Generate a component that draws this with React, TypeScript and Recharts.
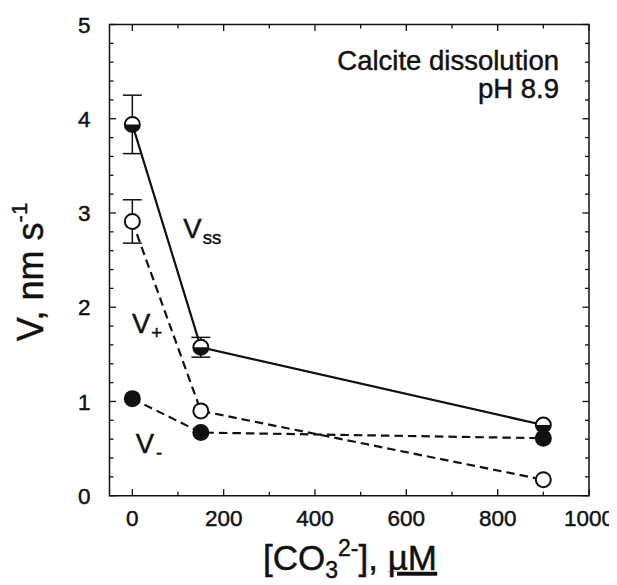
import React from 'react';
import { ComposedChart, Line, XAxis, YAxis, ErrorBar, ReferenceArea, Label } from 'recharts';

const concentrations = [0, 150, 900];
const vssValues = [3.94, 1.575, 0.75];
const vssErrors = [0.31, 0.105, null];
const vPlusValues = [2.91, 0.9, 0.17];
const vPlusErrors = [0.23, null, null];
const vMinusValues = [1.03, 0.67, 0.61];

const xTicks = [0, 100, 200, 300, 400, 500, 600, 700, 800, 900, 1000];
const yTicks = [0, 0.2, 0.4, 0.6, 0.8, 1, 1.2, 1.4, 1.6, 1.8, 2, 2.2, 2.4, 2.6, 2.8, 3, 3.2, 3.4, 3.6, 3.8, 4, 4.2, 4.4, 4.6, 4.8, 5];

const data = concentrations.map((c, i) => ({
  c,
  vss: vssValues[i],
  vssErr: vssErrors[i],
  vPlus: vPlusValues[i],
  vPlusErr: vPlusErrors[i],
  vMinus: vMinusValues[i],
}));

const W = 609;
const H = 577;
const MARGIN = { top: 16.5, right: 28, left: 41.5, bottom: 59.3 };
const Y_AXIS_W = 60;
const X_AXIS_H = 30;
const PLOT_RIGHT = W - MARGIN.right;
const PLOT_TOP = MARGIN.top;

const FONT = '"Liberation Sans", Arial, Helvetica, sans-serif';
const INK = '#111';
const TXT_STROKE = 0.45;

const XTick = (props: any) => {
  const { x, y, payload } = props;
  const v = payload.value;
  const major = v % 200 === 0;
  const len = major ? 6.5 : 4;
  return (
    <g>
      <line x1={x} y1={y} x2={x} y2={y - len} stroke={INK} strokeWidth={1.3} />
      <line x1={x} y1={PLOT_TOP} x2={x} y2={PLOT_TOP + len} stroke={INK} strokeWidth={1.3} />
      {major && (
        <text x={x} y={y + 30} textAnchor="middle" fontSize={22.5} fontFamily={FONT} fill={INK} stroke={INK} strokeWidth={TXT_STROKE}>
          {v}
        </text>
      )}
    </g>
  );
};

const YTick = (props: any) => {
  const { x, y, payload } = props;
  const v = payload.value;
  const major = Math.abs(v - Math.round(v)) < 1e-6;
  const len = major ? 6.5 : 4;
  return (
    <g>
      <line x1={x} y1={y} x2={x + len} y2={y} stroke={INK} strokeWidth={1.3} />
      <line x1={PLOT_RIGHT} y1={y} x2={PLOT_RIGHT - len} y2={y} stroke={INK} strokeWidth={1.3} />
      {major && (
        <text x={x - 19} y={y} dy="0.36em" textAnchor="end" fontSize={22.5} fontFamily={FONT} fill={INK} stroke={INK} strokeWidth={TXT_STROKE}>
          {Math.round(v)}
        </text>
      )}
    </g>
  );
};

const R = 7.5;

const HalfDot = (props: any) => {
  const { cx, cy } = props;
  if (cx == null || cy == null) return <g />;
  return (
    <g>
      <circle cx={cx} cy={cy} r={R} fill="#fff" stroke={INK} strokeWidth={2} />
      <path d={`M ${cx - R} ${cy} A ${R} ${R} 0 0 0 ${cx + R} ${cy} Z`} fill={INK} />
    </g>
  );
};

const OpenDot = (props: any) => {
  const { cx, cy } = props;
  if (cx == null || cy == null) return <g />;
  return <circle cx={cx} cy={cy} r={R} fill="#fff" stroke={INK} strokeWidth={2} />;
};

const FilledDot = (props: any) => {
  const { cx, cy } = props;
  if (cx == null || cy == null) return <g />;
  return <circle cx={cx} cy={cy} r={R + 1} fill={INK} stroke="none" />;
};

const Annotations = () => (
  <g fontFamily={FONT} fill={INK} stroke={INK} strokeWidth={TXT_STROKE}>
    <text x={551} y={62} textAnchor="end" fontSize={27.5}>Calcite dissolution</text>
    <text x={551} y={90} textAnchor="end" fontSize={27.5}>pH 8.9</text>
    <text x={175.3} y={230.3} fontSize={27.5}>
      V<tspan fontSize={18.5} dy={6} dx={1}>ss</tspan>
    </text>
    <text x={124} y={325} fontSize={27.5}>
      V<tspan fontSize={18.5} dy={6} dx={1}>+</tspan>
    </text>
    <text x={127.7} y={445} fontSize={27.5}>
      V<tspan fontSize={18.5} dy={6} dx={2}>-</tspan>
    </text>
    <text x={35} y={264} transform="rotate(-90, 35, 264)" textAnchor="middle" fontSize={36}>
      V, nm s<tspan fontSize={22} dy={-16}>-1</tspan>
    </text>
    <text x={342} y={562} textAnchor="middle" fontSize={35}>
      [CO<tspan fontSize={23} dy={8}>3</tspan>
      <tspan fontSize={23} dy={-22}>2-</tspan>
      <tspan fontSize={35} dy={14}>], </tspan>
      <tspan fontSize={35} textDecoration="underline">µM</tspan>
    </text>
  </g>
);

export default function App() {
  return (
    <div style={{ width: W, height: H }}>
      <ComposedChart width={W} height={H} data={data} margin={MARGIN}>
        <XAxis
          dataKey="c"
          type="number"
          domain={[-50, 1000]}
          ticks={xTicks}
          interval={0}
          tick={XTick}
          tickLine={false}
          axisLine={false}
          tickSize={0}
          tickMargin={0}
          height={X_AXIS_H}
          allowDataOverflow
        >
          <Label content={() => <Annotations />} />
        </XAxis>
        <YAxis
          type="number"
          domain={[0, 5]}
          ticks={yTicks}
          interval={0}
          tick={YTick}
          tickLine={false}
          axisLine={false}
          tickSize={0}
          tickMargin={0}
          width={Y_AXIS_W}
          allowDataOverflow
        />
        <ReferenceArea x1={-50} x2={1000} y1={0} y2={5} fill="none" stroke={INK} strokeWidth={1.5} ifOverflow="visible" />
        <Line
          dataKey="vss"
          type="linear"
          stroke={INK}
          strokeWidth={2.2}
          dot={HalfDot}
          activeDot={false}
          isAnimationActive={false}
        >
          <ErrorBar dataKey="vssErr" width={9.5} stroke={INK} strokeWidth={1.5} direction="y" />
        </Line>
        <Line
          dataKey="vPlus"
          type="linear"
          stroke={INK}
          strokeWidth={2.2}
          strokeDasharray="8.5 5"
          dot={OpenDot}
          activeDot={false}
          isAnimationActive={false}
        >
          <ErrorBar dataKey="vPlusErr" width={9.5} stroke={INK} strokeWidth={1.5} direction="y" />
        </Line>
        <Line
          dataKey="vMinus"
          type="linear"
          stroke={INK}
          strokeWidth={2.2}
          strokeDasharray="8.5 5"
          dot={FilledDot}
          activeDot={false}
          isAnimationActive={false}
        />
      </ComposedChart>
    </div>
  );
}
